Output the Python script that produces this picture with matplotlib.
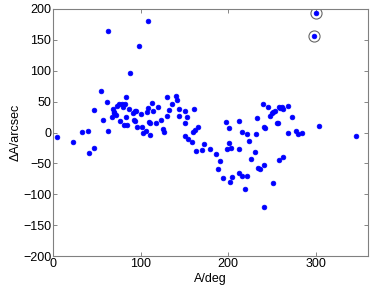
import matplotlib
matplotlib.use("Agg")
import matplotlib.pyplot as plt

plt.rcParams['font.family'] = ['Liberation Sans', 'DejaVu Sans']

az = [4.6, 23, 33, 40, 41, 46, 47, 54, 57, 61, 62, 62, 67, 68, 69, 70, 72, 72.6, 75, 76,
      79, 80, 82, 81, 83, 83, 84, 86.7, 87.5, 91, 92, 93, 93, 95, 96, 98, 100.8, 102, 103, 106,
      107, 108, 108, 109.5, 111, 111, 113, 114, 117, 120, 123.6, 126, 127, 130, 130, 132, 136,
      140.7, 141.4, 143.7, 143.7, 151, 153, 151, 151, 153.6, 158.5, 160, 160.8, 161.6, 166,
      163.5, 170, 172, 179.5, 186, 191, 188, 194, 197.7, 201.5, 200.7, 198.4, 203.5, 204.5,
      202.6, 212, 213, 213, 215.5, 216, 219.4, 222, 222, 223.5, 226, 231, 232, 232.6, 234,
      236.5, 240, 241.4, 242.5, 241.4, 241.4, 246, 248, 250, 251.7, 254, 255.4, 257, 257.7,
      259, 262, 263, 251, 257.7, 263, 269, 273, 269, 278, 279.4, 285, 298, 300, 304, 346]
dA = [-8, -16, 1, 3, -34, 36, -25, 68, 20, 50, 2, 165, 25, 38, 31, 33, 29, 43, 46, 19,
      46, 41, 46, 12, 58, 25, 12, 38, 96, 31, 21, 35, 18, 35, 9, 140, 30, 9, 0, 3,
      33, 40, 181, 16.5, 15, -3.5, 47, 35, 15, 42, 20, 5, 1, 58, 27, 36, 46,
      59, 53, 38, 26, 35, 25, 15, -6, -11, -15, 1, 38, 4, 8.4,
      -30, -28, -18.6, -26, -35, -46, -59.6, -74, 17, 8, -16.5, -26, -25, -71.5,
      -80, -66, 18, -27, 1, -70.5, -92, -70.5, -2.4, -13, -43, -31, -3, 24, -58,
      -58.6, 46, 9, 7, -52.6, -120, 42, 27, 31, 34, 35, 15, 16, 42,
      39, 41, 38, -81, -45, -40, 43, 25, -1.3, 3, -2.4, -1.3, 156, 194, 10.5, -6]

out_az = [298, 300]
out_dA = [156, 194]

xticks = [0, 100, 200, 300]
yticks = [-200, -150, -100, -50, 0, 50, 100, 150, 200]

fig = plt.figure(figsize=(3.73, 2.90), dpi=100)
ax = fig.add_axes([0.1429, 0.1172, 0.8437, 0.8518])
ax.plot(az, dA, linestyle='none', marker='o', markersize=3.4,
        markerfacecolor=(0, 0, 1), markeredgecolor=(0, 0, 1), markeredgewidth=0.5)
ax.plot(out_az, out_dA, linestyle='none', marker='o', markersize=8,
        markerfacecolor='none', markeredgecolor=(0.4, 0.4, 0.4), markeredgewidth=0.8)

ax.set_xlim(0, 360)
ax.set_ylim(-200, 200)
ax.set_xticks(xticks)
ax.set_yticks(yticks)
ax.tick_params(direction='in', top=True, right=True, length=3, width=0.6,
               labelsize=9, colors=(0.45, 0.45, 0.45), labelcolor='black', pad=1.5)
for s in ax.spines.values():
    s.set_color((0.5, 0.5, 0.5))
    s.set_linewidth(0.8)
ax.set_xlabel('A/deg', fontsize=9, labelpad=2)
ax.set_ylabel('ΔA/arcsec', fontsize=9, labelpad=1)

fig.savefig('out.png', dpi=100)
